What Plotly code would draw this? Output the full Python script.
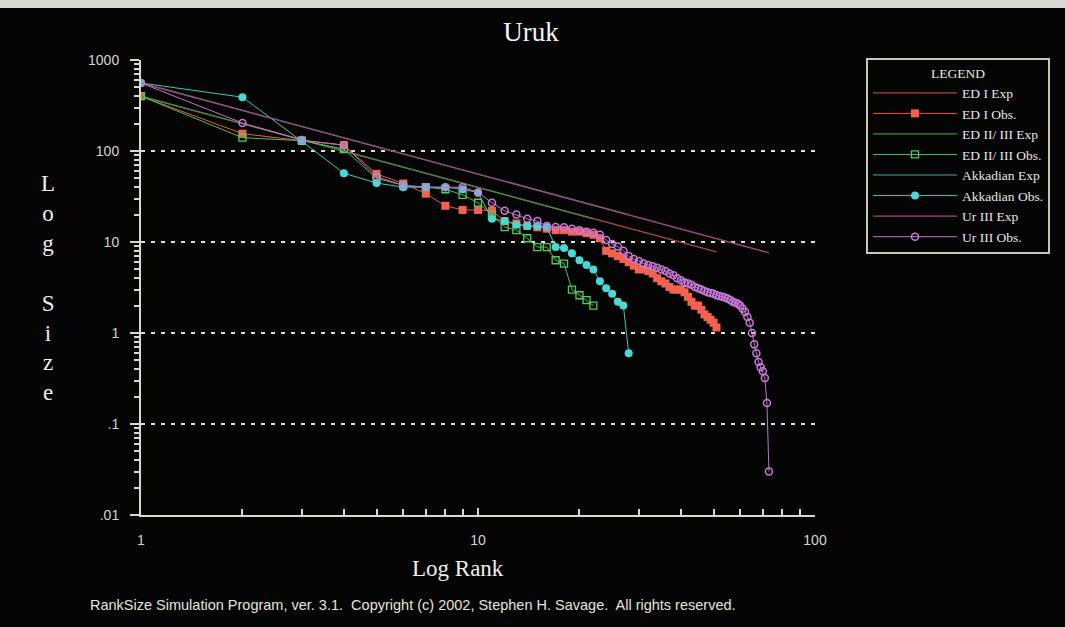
import plotly.graph_objects as go

# Rank-size data for Uruk
ed1_obs = [400, 155, 130, 116, 56, 44, 34, 25, 22.5, 22.5,
           22, 17, 16, 15, 14.5, 14, 13.5, 13.5, 13, 13,
           12.5, 12, 11, 8, 7.5, 7, 6.5, 6, 5.5, 5,
           5, 4.8, 4.5, 4, 3.7, 3.5, 3.2, 3.0, 3.0, 3.0,
           2.8, 2.5, 2.2, 2.0, 2.0, 1.8, 1.6, 1.5, 1.4, 1.3, 1.15]
ed23_obs = [400, 140, 130, 105, 50, 42, 40, 38, 33, 27,
            20, 14.6, 13.5, 11, 8.8, 8.8, 6.3, 5.8, 3.0, 2.6, 2.3, 2.0]
akk_obs = [559, 390, 128, 57, 44.5, 40, 40, 40, 38, 35,
           18, 17, 15.5, 15, 15, 14.5, 8.8, 8.6, 7.5, 6.3,
           5.6, 5.0, 3.7, 3.1, 2.7, 2.2, 2.0, 0.6]
ur3_obs = [559, 203, 132, 116, 52, 42, 40, 40, 40, 35,
           27, 22, 20, 18, 17, 15, 14.6, 14.5, 14, 13.5,
           13, 12.6, 12, 10.5, 9.5, 8.9, 8, 7, 6.5, 6.2,
           5.8, 5.6, 5.4, 5.2, 5.0, 4.8, 4.5, 4.3, 4.0, 3.8,
           3.6, 3.5, 3.4, 3.2, 3.1, 3.0, 2.9, 2.8, 2.75, 2.7,
           2.6, 2.55, 2.5, 2.45, 2.4, 2.3, 2.2, 2.15, 2.1, 2.0,
           1.85, 1.7, 1.5, 1.3, 1.0, 0.75, 0.6, 0.48, 0.42, 0.38,
           0.32, 0.17, 0.03]

# expected (rank-size rule) lines: first and last rank with size
ed1_exp_x, ed1_exp_y = [1, 51], [400, 7.8]
ed23_exp_x, ed23_exp_y = [1, 22], [400, 18]
akk_exp_x, akk_exp_y = [1, 28], [559, 20]
ur3_exp_x, ur3_exp_y = [1, 73], [559, 7.6]

y_ticks = [0.01, 0.1, 1, 10, 100, 1000]
y_labels = ['.01', '.1', '1', '10', '100', '1000']
x_ticks = [1, 10, 100]
x_labels = ['1', '10', '100']

def ranks(vals):
    return list(range(1, len(vals) + 1))

fig = go.Figure()

# ED I
fig.add_trace(go.Scatter(x=ed1_exp_x, y=ed1_exp_y, mode='lines', name='ED I Exp',
                         line=dict(color='#a8464a', width=1.3)))
fig.add_trace(go.Scatter(x=ranks(ed1_obs), y=ed1_obs, mode='lines+markers', name='ED I Obs.',
                         line=dict(color='#e85a4a', width=1),
                         marker=dict(symbol='square', size=8, color='#f2624e')))
# ED II/III
fig.add_trace(go.Scatter(x=ed23_exp_x, y=ed23_exp_y, mode='lines', name='ED II/ III Exp',
                         line=dict(color='#3c8a3c', width=1.3)))
fig.add_trace(go.Scatter(x=ranks(ed23_obs), y=ed23_obs, mode='lines+markers', name='ED II/ III Obs.',
                         line=dict(color='#4cc04c', width=1),
                         marker=dict(symbol='square-open', size=7, color='#52cc52',
                                     line=dict(width=1.3))))
# Akkadian
fig.add_trace(go.Scatter(x=akk_exp_x, y=akk_exp_y, mode='lines', name='Akkadian Exp',
                         line=dict(color='#2e7070', width=1.3)))
fig.add_trace(go.Scatter(x=ranks(akk_obs), y=akk_obs, mode='lines+markers', name='Akkadian Obs.',
                         line=dict(color='#3cc8b8', width=1),
                         marker=dict(symbol='circle', size=8, color='#4ad8d4')))
# Ur III
fig.add_trace(go.Scatter(x=ur3_exp_x, y=ur3_exp_y, mode='lines', name='Ur III Exp',
                         line=dict(color='#a0487a', width=1.3)))
fig.add_trace(go.Scatter(x=ranks(ur3_obs), y=ur3_obs, mode='lines+markers', name='Ur III Obs.',
                         line=dict(color='#c070d0', width=1),
                         marker=dict(symbol='circle-open', size=7, color='#c87ad8',
                                     line=dict(width=1.5))))

axis_col = '#d8d8cc'
tick_font = dict(family='Liberation Sans, Arial', size=14, color='#d4d4cc')
serif = 'Liberation Serif, Times New Roman, serif'

fig.update_xaxes(type='log', range=[0, 2], tickvals=x_ticks, ticktext=x_labels,
                 showline=True, linecolor=axis_col, linewidth=2, mirror=False,
                 ticks='inside', ticklen=7, tickcolor=axis_col, tickwidth=1.5,
                 ticklabelstandoff=11, tickfont=tick_font,
                 minor=dict(ticks='inside', ticklen=6, dtick='D1', tickcolor=axis_col, showgrid=False),
                 showgrid=False, zeroline=False)
fig.update_yaxes(type='log', range=[-2, 3], tickvals=y_ticks, ticktext=y_labels,
                 showline=True, linecolor=axis_col, linewidth=2, mirror=False,
                 ticks='outside', ticklen=9, tickcolor=axis_col, tickwidth=1.5,
                 ticklabelstandoff=8, tickfont=tick_font,
                 minor=dict(ticks='outside', ticklen=5, dtick='D1', tickcolor=axis_col, showgrid=False),
                 showgrid=True, gridcolor='#e0e0d0', gridwidth=2, griddash='4px,6px',
                 zeroline=False)

fig.update_layout(
    width=1065, height=627,
    margin=dict(l=141, r=250, t=60, b=112),
    paper_bgcolor='#050505', plot_bgcolor='#050505',
    title=dict(text='Uruk', x=0.4986, xanchor='center', y=1 - 32 / 627, yanchor='middle',
               font=dict(family=serif, size=27, color='#f4f4f0')),
    showlegend=True,
    legend=dict(x=1.0757, xanchor='left', y=1.0044, yanchor='top',
                bgcolor='#050505', bordercolor='#c8c8b8', borderwidth=2,
                font=dict(family=serif, size=13.5, color='#e8e8e0'),
                itemwidth=84, tracegroupgap=0,
                title=dict(text='LEGEND', side='top center',
                           font=dict(family=serif, size=13.5, color='#e8e8e0'))),
    annotations=[
        dict(text='Log Rank', x=0.470, y=-0.1165, xref='paper', yref='paper',
             xanchor='center', yanchor='middle', showarrow=False,
             font=dict(family=serif, size=23, color='#f0f0ea')),
        dict(text='L<br>o<br>g<br><br>S<br>i<br>z<br>e', x=-0.138, y=0.499,
             xref='paper', yref='paper', xanchor='center', yanchor='middle', showarrow=False,
             font=dict(family=serif, size=23, color='#f0f0ea')),
        dict(text='RankSize Simulation Program, ver. 3.1.  Copyright (c) 2002, Stephen H. Savage.  All rights reserved.',
             x=-0.0786, y=-0.1978, xref='paper', yref='paper', xanchor='left', yanchor='middle',
             showarrow=False, font=dict(family='Liberation Sans, Arial', size=14.5, color='#e4e4dc')),
    ],
    shapes=[
        # light strip along the top edge of the screenshot
        dict(type='rect', xref='paper', yref='paper', x0=-0.3, x1=1.6,
             y0=1.1143, y1=1.2, fillcolor='#d8d8d4', line=dict(width=0), layer='below'),
    ],
)

# drop the default page margin so the figure sits at the window's corner
fig.write_html("out.html", config={'displayModeBar': False},
               post_script="document.body.style.margin = '0';")
